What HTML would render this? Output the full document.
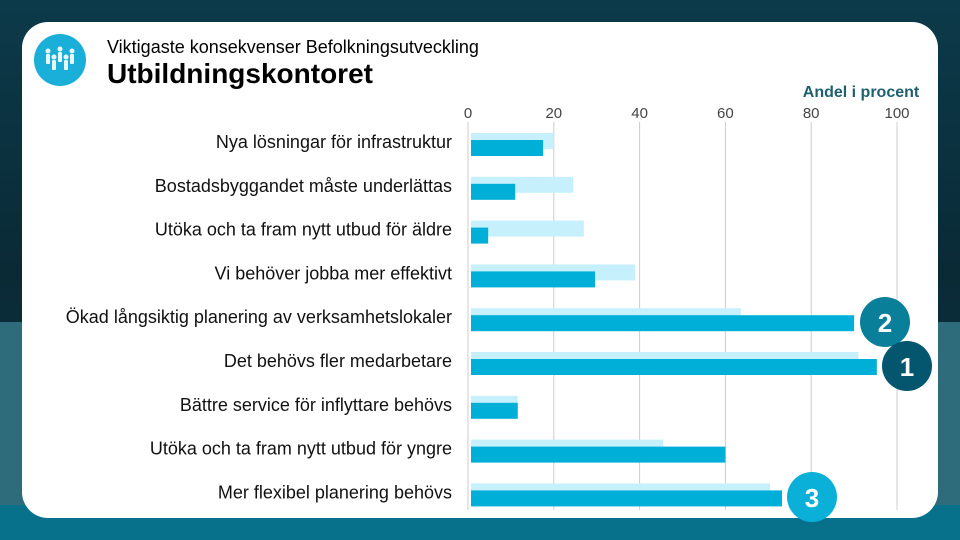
<!DOCTYPE html>
<html><head><meta charset="utf-8">
<style>
body{margin:0;width:960px;height:540px;overflow:hidden;font-family:"Liberation Sans",sans-serif;}
#bg{position:absolute;left:0;top:0;width:960px;height:540px;background:linear-gradient(180deg,#0c3a4a 0%,#0a2a36 50%,#0b3342 100%);}
#band{position:absolute;left:0;top:322px;width:960px;height:218px;background:#2e6c7c;}
#band2{position:absolute;left:0;top:505px;width:960px;height:35px;background:#07718c;}
#card{position:absolute;left:22px;top:22px;width:916px;height:496px;background:#fff;border-radius:26px;}
</style></head><body>
<div id="bg"></div>
<div id="band"></div>
<div id="band2"></div>
<div id="card"></div>
<svg id="chart" width="960" height="540" style="position:absolute;left:0;top:0">
<g>
<circle cx="60" cy="60" r="26" fill="#1aafd9"/>
<g fill="#fff" opacity="0.9">
<circle cx="48" cy="51" r="2.5"/><rect x="46" y="54" width="4" height="10" rx="1"/>
<circle cx="60" cy="49" r="2.5"/><rect x="58" y="52" width="4" height="10" rx="1"/>
<circle cx="72" cy="51" r="2.5"/><rect x="70" y="54" width="4" height="10" rx="1"/>
<circle cx="54" cy="57" r="2.5"/><rect x="52" y="60" width="4" height="10" rx="1"/>
<circle cx="66" cy="57" r="2.5"/><rect x="64" y="60" width="4" height="10" rx="1"/>
</g></g>
<text x="107" y="53" font-size="18" fill="#000">Viktigaste konsekvenser Befolkningsutveckling</text>
<text x="107" y="83" font-size="28" font-weight="bold" fill="#000">Utbildningskontoret</text>
<text x="861" y="97" font-size="16" font-weight="bold" fill="#1f5f6e" text-anchor="middle">Andel i procent</text>
<g id="grid"></g><g id="bars"></g><g id="labels"></g>
<g><circle cx="885" cy="322" r="25" fill="#0a7f9a"/><text x="885" y="332" font-size="26" font-weight="bold" fill="#fff" text-anchor="middle">2</text></g>
<g><circle cx="907" cy="366" r="25" fill="#03566e"/><text x="907" y="376" font-size="26" font-weight="bold" fill="#fff" text-anchor="middle">1</text></g>
<g><circle cx="812" cy="497" r="25" fill="#0ab0d8"/><text x="812" y="507" font-size="26" font-weight="bold" fill="#fff" text-anchor="middle">3</text></g>
</svg>
<script>
const categories=["Nya lösningar för infrastruktur","Bostadsbyggandet måste underlättas","Utöka och ta fram nytt utbud för äldre","Vi behöver jobba mer effektivt","Ökad långsiktig planering av verksamhetslokaler","Det behövs fler medarbetare","Bättre service för inflyttare behövs","Utöka och ta fram nytt utbud för yngre","Mer flexibel planering behövs"];
const lightValues=[20,24.5,27,39,63.6,91,11.6,45.5,70.4];
const darkValues=[17.5,11,4.7,29.6,90,95.3,11.6,60,73.2];
const ticks=[0,20,40,60,80,100];
const NS="http://www.w3.org/2000/svg";
function x(v){return 468+v*4.29;}
function rowY(i){return 133+i*43.8;}
function mk(tag,attrs,parent){const e=document.createElementNS(NS,tag);for(const k in attrs)e.setAttribute(k,attrs[k]);document.getElementById(parent).appendChild(e);return e;}
ticks.forEach(t=>{
  const l=mk('line',{x1:x(t),x2:x(t),y1:122,y2:510,stroke:'#cccccc','stroke-width':1},'grid');
  
  
  const tx=mk('text',{x:x(t),y:118,'font-size':15,fill:'#444','text-anchor':'middle'},'grid');
  tx.textContent=t;
  
  
});
categories.forEach((c,i)=>{
  const y=rowY(i);
  const a=mk('rect',{x:x(0)+3,y:y,width:Math.max(0,x(lightValues[i])-x(0)-3),height:16,fill:'#c6f0fb'},'bars');
  
  
  const b=mk('rect',{x:x(0)+3,y:y+7,width:Math.max(0,x(darkValues[i])-x(0)-3),height:16,fill:'#00afd7'},'bars');
  
  
  const t=mk('text',{x:452,y:y+15,'font-size':18,fill:'#111','text-anchor':'end'},'labels');
  t.textContent=c;
  
  
});
</script>
</body></html>
